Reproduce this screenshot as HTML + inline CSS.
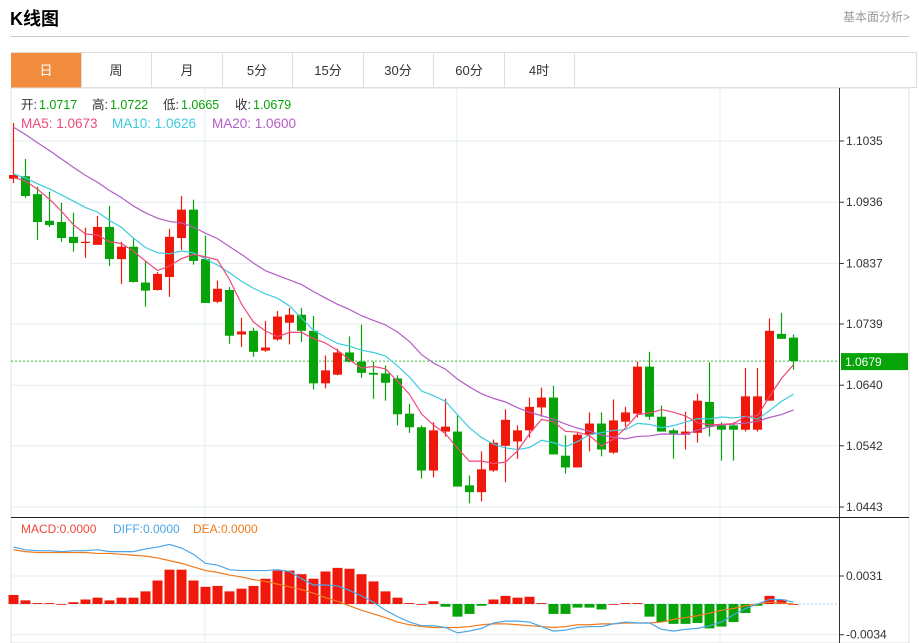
<!DOCTYPE html>
<html><head><meta charset="utf-8"><style>
body{margin:0;background:#fff;font-family:"Liberation Sans","Noto Sans CJK SC",sans-serif;width:919px;height:643px;overflow:hidden;position:relative}
.abs{position:absolute}
.tab{position:absolute;top:53px;height:35px;width:70px;border-right:1px solid #ddd;text-align:center;line-height:35px;font-size:13px;color:#333}
</style></head><body>
<div class="abs" style="left:10px;top:5px;font-size:18px;font-weight:bold;color:#000">K线图</div>
<div class="abs" style="left:843px;top:8px;font-size:12px;color:#999">基本面分析&gt;</div>
<div class="abs" style="left:10px;top:36px;width:899px;height:1px;background:#ccc"></div>
<div class="abs" style="left:11px;top:52px;width:906px;height:36px;border:1px solid #ddd;box-sizing:border-box"></div>
<div class="tab" style="left:11px;background:#f28c3f;color:#fff">日</div>
<div class="tab" style="left:81px">周</div>
<div class="tab" style="left:152px">月</div>
<div class="tab" style="left:222px">5分</div>
<div class="tab" style="left:293px">15分</div>
<div class="tab" style="left:363px">30分</div>
<div class="tab" style="left:434px">60分</div>
<div class="tab" style="left:504px">4时</div>
<svg id="chart" class="abs" style="left:0;top:0" width="919" height="643" font-family="Liberation Sans, Noto Sans CJK SC, sans-serif"></svg>
<script>
const opens=[1.0974,1.0978,1.0949,1.0906,1.0904,1.0880,1.0870,1.0867,1.0896,1.0844,1.0864,1.0806,1.0794,1.0815,1.0878,1.0924,1.0844,1.0775,1.0794,1.0722,1.0728,1.0696,1.0714,1.0741,1.0754,1.0728,1.0643,1.0657,1.0693,1.0678,1.0660,1.0659,1.0651,1.0594,1.0572,1.0502,1.0565,1.0565,1.0478,1.0467,1.0502,1.0542,1.0549,1.0567,1.0604,1.0620,1.0526,1.0507,1.0560,1.0578,1.0531,1.0581,1.0594,1.0670,1.0589,1.0567,1.0560,1.0563,1.0613,1.0575,1.0575,1.0568,1.0568,1.0615,1.0723,1.0717];
const highs=[1.1064,1.1006,1.0961,1.0953,1.0935,1.0919,1.0895,1.0914,1.0930,1.0872,1.0877,1.0841,1.0823,1.0893,1.0946,1.0940,1.0882,1.0809,1.0799,1.0749,1.0733,1.0744,1.0760,1.0765,1.0765,1.0752,1.0688,1.0699,1.0719,1.0738,1.0678,1.0672,1.0656,1.0610,1.0575,1.0580,1.0618,1.0591,1.0494,1.0533,1.0552,1.0601,1.0575,1.0620,1.0636,1.0639,1.0559,1.0563,1.0596,1.0596,1.0617,1.0605,1.0678,1.0694,1.0607,1.0570,1.0597,1.0626,1.0677,1.0580,1.0580,1.0668,1.0668,1.0748,1.0757,1.0722];
const lows=[1.0967,1.0943,1.0875,1.0896,1.0872,1.0856,1.0846,1.0867,1.0833,1.0804,1.0806,1.0767,1.0793,1.0783,1.0859,1.0835,1.0773,1.0773,1.0707,1.0702,1.0686,1.0694,1.0712,1.0706,1.0710,1.0633,1.0635,1.0656,1.0677,1.0652,1.0618,1.0615,1.0575,1.0563,1.0489,1.0491,1.0557,1.0476,1.0449,1.0452,1.0500,1.0483,1.0521,1.0555,1.0589,1.0528,1.0497,1.0507,1.0533,1.0525,1.0529,1.0573,1.0588,1.0584,1.0565,1.0521,1.0536,1.0547,1.0557,1.0518,1.0518,1.0565,1.0565,1.0615,1.0715,1.0665];
const closes=[1.0980,1.0946,1.0904,1.0899,1.0878,1.0870,1.0872,1.0896,1.0844,1.0864,1.0807,1.0793,1.0820,1.0880,1.0924,1.0841,1.0773,1.0796,1.0720,1.0727,1.0694,1.0701,1.0751,1.0754,1.0728,1.0643,1.0664,1.0693,1.0678,1.0660,1.0657,1.0644,1.0593,1.0572,1.0502,1.0567,1.0573,1.0476,1.0467,1.0504,1.0547,1.0584,1.0567,1.0605,1.0620,1.0528,1.0507,1.0560,1.0578,1.0536,1.0583,1.0596,1.0670,1.0589,1.0565,1.0562,1.0565,1.0615,1.0573,1.0568,1.0568,1.0622,1.0622,1.0728,1.0715,1.0679];
const priorCloses=[1.1180,1.1170,1.1155,1.1150,1.1140,1.1130,1.1120,1.1110,1.1095,1.1080,1.1010,1.0995,1.0985,1.0975,1.0970,1.0975,1.0970,1.0980,1.0975];
const macdHist=[0.0010,0.0004,0.0001,0.0001,0.0000,0.0002,0.0005,0.0007,0.0004,0.0007,0.0007,0.0014,0.0026,0.0038,0.0038,0.0026,0.0019,0.0020,0.0014,0.0017,0.0020,0.0028,0.0037,0.0037,0.0033,0.0028,0.0036,0.0040,0.0039,0.0033,0.0025,0.0014,0.0007,0.0001,0.0000,0.0003,-0.0003,-0.0014,-0.0011,-0.0002,0.0005,0.0009,0.0007,0.0008,0.0001,-0.0011,-0.0011,-0.0004,-0.0004,-0.0006,0.0000,0.0001,0.0001,-0.0014,-0.0020,-0.0022,-0.0022,-0.0021,-0.0027,-0.0025,-0.0020,-0.0010,-0.0002,0.0009,0.0005,0.0000];
const diffLine=[0.0063,0.0060,0.0059,0.0059,0.0058,0.0059,0.0059,0.0060,0.0058,0.0058,0.0058,0.0061,0.0063,0.0066,0.0062,0.0055,0.0045,0.0043,0.0038,0.0037,0.0037,0.0037,0.0038,0.0036,0.0028,0.0021,0.0021,0.0020,0.0015,0.0009,0.0002,-0.0007,-0.0014,-0.0020,-0.0024,-0.0024,-0.0026,-0.0032,-0.0030,-0.0027,-0.0021,-0.0019,-0.0019,-0.0020,-0.0025,-0.0030,-0.0029,-0.0026,-0.0025,-0.0025,-0.0022,-0.0020,-0.0021,-0.0021,-0.0028,-0.0030,-0.0028,-0.0027,-0.0024,-0.0020,-0.0012,-0.0005,0.0000,0.0005,0.0005,0.0002];
const deaLine=[0.0060,0.0058,0.0057,0.0057,0.0057,0.0057,0.0057,0.0056,0.0056,0.0055,0.0054,0.0053,0.0051,0.0048,0.0045,0.0041,0.0037,0.0035,0.0032,0.0030,0.0027,0.0025,0.0022,0.0019,0.0016,0.0012,0.0007,0.0003,-0.0002,-0.0007,-0.0011,-0.0015,-0.0020,-0.0023,-0.0025,-0.0026,-0.0026,-0.0026,-0.0025,-0.0023,-0.0022,-0.0022,-0.0023,-0.0024,-0.0025,-0.0026,-0.0025,-0.0023,-0.0023,-0.0022,-0.0022,-0.0021,-0.0021,-0.0021,-0.0020,-0.0017,-0.0015,-0.0013,-0.0010,-0.0007,-0.0005,-0.0002,0.0000,0.0002,0.0001,0.0000];
const priceTicks=["1.1035","1.0936","1.0837","1.0739","1.0640","1.0542","1.0443"];
const macdTicks=["0.0031","-0.0034"];
const lastPrice=1.0679;

const svg=document.getElementById('chart');
const NS='http://www.w3.org/2000/svg';
function mk(tag,attrs,parent){const e=document.createElementNS(NS,tag);for(const k in attrs)e.setAttribute(k,attrs[k]);(parent||svg).appendChild(e);return e;}
const yP=v=>141+(1.1035-v)*(366/0.0592);
const yM=v=>604-v*(28/0.0031);
const xC=i=>13.5+i*12;
const RED='#f0180a',GREEN='#06a408';

let e=mk('rect',{x:11,y:88,width:898,height:555,fill:'none',stroke:'#e0e0e0'});


priceTicks.forEach(t=>{const y=yP(+t);
 let g=mk('line',{x1:11,x2:839,y1:y,y2:y,stroke:'#e3ecf3'});
 
 
 mk('line',{x1:839,x2:844,y1:y,y2:y,stroke:'#333'});
 let tx=mk('text',{x:846,y:y+4,'font-size':12,fill:'#333'});tx.textContent=t;
 
 
});
[205,457,720].forEach(x=>{let g=mk('line',{x1:x,x2:x,y1:88,y2:643,stroke:'#e3ecf3'});
 
 });
macdTicks.forEach(t=>{const y=yM(+t);
 let g=mk('line',{x1:11,x2:839,y1:y,y2:y,stroke:'#e3ecf3'});
 
 
 mk('line',{x1:839,x2:844,y1:y,y2:y,stroke:'#333'});
 let tx=mk('text',{x:846,y:y+4,'font-size':12,fill:'#333'});tx.textContent=t;
 
 
});
let zl=mk('line',{x1:11,x2:839,y1:yM(0),y2:yM(0),stroke:'#9cd3ee','stroke-dasharray':'2,2'});


let ax=mk('line',{x1:839.5,x2:839.5,y1:88,y2:643,stroke:'#333'});


let sep=mk('line',{x1:11,x2:909,y1:517.5,y2:517.5,stroke:'#222'});



const yl=yP(lastPrice);
let lp=mk('line',{x1:11,x2:839,y1:yl,y2:yl,stroke:'#3cb83c','stroke-dasharray':'2,2'});


let lr=mk('rect',{x:841,y:yl-8,width:67,height:17,fill:GREEN});


let lt=mk('text',{x:845,y:yl+5,'font-size':12,fill:'#fff'});
lt.textContent=lastPrice.toFixed(4);



macdHist.forEach((v,i)=>{const y0=yM(0),y1=yM(v);
 let r=mk('rect',{x:xC(i)-5,y:Math.min(y0,y1),width:10,height:Math.max(Math.abs(y1-y0),0.8),fill:v>=0?RED:GREEN});
 
 });
function poly(arr,fy,color,name){const pts=arr.map((v,i)=>xC(i)+','+fy(v)).join(' ');
 let p=mk('polyline',{points:pts,fill:'none',stroke:color,'stroke-width':1.2});
 
 }
poly(deaLine,yM,'#f07b1d','dea-line');
poly(diffLine,yM,'#4aa6ea','diff-line');

opens.forEach((o,i)=>{const c=closes[i],up=c>=o,col=up?RED:GREEN,x=xC(i);
 let w=mk('line',{x1:x,x2:x,y1:yP(highs[i]),y2:yP(lows[i]),stroke:col,'stroke-width':1.2});
 
 
 const yt=yP(Math.max(o,c)),yb=yP(Math.min(o,c));
 let b=mk('rect',{x:x-4.5,y:yt,width:9,height:Math.max(yb-yt,1.2),fill:col});
 
 
});
const all=priorCloses.concat(closes),P=priorCloses.length;
function ma(n){return closes.map((_,i)=>{let s=0;for(let k=0;k<n;k++)s+=all[P+i-k];return s/n;});}
poly(ma(20),yP,'#b45cc6','ma20-line');
poly(ma(10),yP,'#3ccbe0','ma10-line');
poly(ma(5),yP,'#f0487a','ma5-line');

function txt(x,y,s,col,name,fs){let t=mk('text',{x:x,y:y,'font-size':fs||12,fill:col});t.textContent=s;
 
 }
txt(21,109,'开:','#333','open-label',12.5);txt(39,109,'1.0717',GREEN,'open-value',12.5);
txt(92,109,'高:','#333','high-label',12.5);txt(110,109,'1.0722',GREEN,'high-value',12.5);
txt(163,109,'低:','#333','low-label',12.5);txt(181,109,'1.0665',GREEN,'low-value',12.5);
txt(235,109,'收:','#333','close-label',12.5);txt(253,109,'1.0679',GREEN,'close-value',12.5);
txt(21,128,'MA5: 1.0673','#f0487a','ma5-legend',13.5);
txt(112,128,'MA10: 1.0626','#3ccbe0','ma10-legend',13.5);
txt(212,128,'MA20: 1.0600','#b45cc6','ma20-legend',13.5);
txt(21,533,'MACD:0.0000','#f0483c','macd-legend');
txt(113,533,'DIFF:0.0000','#4aa6ea','diff-legend');
txt(193,533,'DEA:0.0000','#f07b1d','dea-legend');
</script>
</body></html>
